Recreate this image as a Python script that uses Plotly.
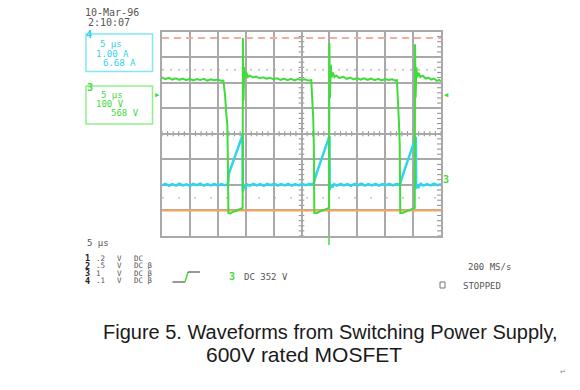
import plotly.graph_objects as go

# ---------------- data (scope divisions: x 0..10 = 5 us/div, y -4..4) ----------------
green_t = [0.00, 0.12, 0.25, 0.37, 0.50, 0.62, 0.75, 0.87, 1.00, 1.12, 1.25, 1.37, 1.50, 1.62, 1.75, 1.87,
           2.00, 2.12, 2.20, 2.26, 2.31, 2.34, 2.36, 2.38,
           2.45, 2.55, 2.65, 2.75, 2.85, 2.89,
           2.90, 2.92, 2.95, 2.98, 3.02, 3.08, 3.15, 3.25, 3.37, 3.50, 3.62, 3.75, 3.87, 4.00, 4.12,
           4.25, 4.37, 4.50, 4.62, 4.75, 4.87, 5.00, 5.12, 5.25, 5.35,
           5.38, 5.42, 5.44, 5.46,
           5.55, 5.65, 5.75, 5.85, 5.95, 5.99,
           6.00, 6.02, 6.05, 6.08, 6.12, 6.18, 6.25, 6.35, 6.50, 6.62, 6.75, 6.87, 7.00, 7.12, 7.25,
           7.37, 7.50, 7.62, 7.75, 7.87, 8.00, 8.12, 8.25, 8.37, 8.42,
           8.45, 8.49, 8.52, 8.54,
           8.62, 8.72, 8.82, 8.92, 9.02, 9.06,
           9.07, 9.09, 9.12, 9.15, 9.20, 9.26, 9.35, 9.45, 9.55, 9.65, 9.75, 9.85, 9.93, 10.0]
green_v = [2.20, 2.14, 2.19, 2.12, 2.17, 2.11, 2.16, 2.10, 2.15, 2.09, 2.14, 2.10, 2.15, 2.08, 2.13, 2.09,
           2.12, 2.07, 2.08, 1.50, 0.70, 0.40, -1.00, -3.10,
           -3.12, -3.05, -3.02, -2.98, -2.93, -2.90,
           3.75, 1.30, 2.60, 2.20, 2.40, 2.22, 2.28, 2.20, 2.24, 2.17, 2.21, 2.15, 2.19, 2.13, 2.17,
           2.11, 2.16, 2.10, 2.15, 2.09, 2.14, 2.10, 2.13, 2.08, 2.10,
           1.60, 0.60, -0.30, -3.10,
           -3.10, -3.04, -3.00, -2.96, -2.92, -2.90,
           3.55, 1.40, 2.70, 2.20, 2.40, 2.22, 2.28, 2.18, 2.23, 2.15, 2.20, 2.13, 2.18, 2.12, 2.17,
           2.11, 2.16, 2.10, 2.15, 2.09, 2.14, 2.10, 2.13, 2.08, 2.10,
           1.60, 0.50, -0.40, -3.10,
           -3.10, -3.05, -3.00, -2.96, -2.93, -2.90,
           3.50, 1.40, 2.60, 2.20, 2.38, 2.22, 2.27, 2.16, 2.20, 2.12, 2.16, 2.07, 2.11, 2.06]

cyan_t = [0.00, 0.12, 0.25, 0.37, 0.50, 0.62, 0.75, 0.87, 1.00, 1.12, 1.25, 1.37, 1.50, 1.62, 1.75, 1.87,
          2.00, 2.12, 2.25, 2.36,
          2.37, 2.40, 2.89,
          2.90, 2.93, 2.98, 3.05, 3.15, 3.27, 3.40, 3.52, 3.65, 3.77, 3.90, 4.02, 4.15, 4.27, 4.40, 4.52,
          4.65, 4.77, 4.90, 5.02, 5.15, 5.27, 5.43,
          5.44, 5.54, 6.00,
          6.01, 6.05, 6.10, 6.17, 6.27, 6.40, 6.52, 6.65, 6.77, 6.90, 7.02, 7.15, 7.27, 7.40, 7.52,
          7.65, 7.77, 7.90, 8.02, 8.15, 8.27, 8.40, 8.54,
          8.55, 8.69, 9.10,
          9.11, 9.15, 9.20, 9.27, 9.37, 9.50, 9.62, 9.75, 9.87, 10.0]
cyan_v = [-2.02, -1.96, -2.04, -1.97, -2.03, -1.95, -2.02, -1.98, -2.04, -1.96, -2.01, -1.95, -2.03, -1.97, -2.02, -1.96,
          -2.03, -1.97, -2.01, -1.98,
          -1.88, -1.55, -0.05,
          -2.25, -2.05, -2.15, -1.98, -2.03, -1.96, -2.02, -1.97, -2.04, -1.96, -2.01, -1.95, -2.03, -1.97, -2.02, -1.96,
          -2.03, -1.97, -2.02, -1.96, -2.01, -1.97, -1.98,
          -1.92, -1.55, -0.09,
          -2.20, -2.00, -2.10, -1.97, -2.03, -1.96, -2.02, -1.97, -2.04, -1.96, -2.01, -1.95, -2.03, -1.97, -2.02,
          -1.96, -2.03, -1.97, -2.01, -1.96, -2.02, -1.97, -1.98,
          -1.90, -1.42, -0.12,
          -2.15, -2.00, -2.08, -1.96, -2.03, -1.97, -2.02, -1.95, -2.01, -1.97]

ref_t = [0.0, 10.0]
ch1_level = [-3.0, -3.0]        # orange reference
ch2_level = [3.75, 3.75]        # pink dashed reference

date_lines = ["10-Mar-96", "2:10:07"]
ch4_box = ["5 µs", "1.00 A", "6.68 A"]
ch3_box = ["5 µs", "100 V", "568 V"]
ch_nums = ["1", "2", "3", "4"]
ch_scales = [".2", ".5", "1", ".1"]
ch_couplings = ["DC", "DC β", "DC β", "DC β"]
caption = ["Figure 5. Waveforms from Switching Power Supply,", "600V rated MOSFET"]

# ---------------- geometry (page has an 8px body margin) ----------------
OFF = 8
W, H = 580 - OFF, 390 - OFF
GX0, GX1, GY0, GY1 = 162, 441, 31.5, 236
def px(x): return (x - OFF) / W
def py(y): return 1 - (y - OFF) / H

GREEN = "#3fdc3a"
CYAN = "#30d4ec"
ORANGE = "#f6a45c"
PINK = "#f5aca2"
GRID = "#a9a9a9"
TXT = "#555555"
MONO = "DejaVu Sans Mono"

fig = go.Figure()
fig.add_trace(go.Scatter(x=ref_t, y=ch1_level, mode="lines", line=dict(color=ORANGE, width=2), hoverinfo="skip"))
fig.add_trace(go.Scatter(x=ref_t, y=ch2_level, mode="lines", line=dict(color=PINK, width=2, dash="7px,5px"), hoverinfo="skip"))
fig.add_trace(go.Scatter(x=cyan_t, y=cyan_v, mode="lines", line=dict(color=CYAN, width=2.5), hoverinfo="skip"))
fig.add_trace(go.Scatter(x=green_t, y=green_v, mode="lines", line=dict(color=GREEN, width=2), hoverinfo="skip"))

shapes = []
shapes.append(dict(type="line", xref="x", yref="y", x0=0, x1=10, y0=2.5, y1=2.5,
                   line=dict(color="#bdbdbd", width=1.5, dash="2px,6px"), layer="below"))
shapes.append(dict(type="line", xref="x", yref="y", x0=0, x1=10, y0=-2.5, y1=-2.5,
                   line=dict(color="#c4c4c4", width=1.5, dash="2px,14px"), layer="below"))
for k in range(-20, 21):
    yv = k * 0.2
    shapes.append(dict(type="line", xref="x", yref="y", x0=4.9, x1=5.1, y0=yv, y1=yv,
                       line=dict(color="#8a8a8a", width=1), layer="below"))
    shapes.append(dict(type="line", xref="x", yref="y", x0=9.86, x1=10, y0=yv, y1=yv,
                       line=dict(color="#8a8a8a", width=1), layer="below"))
for k in range(0, 51):
    xv = k * 0.2
    shapes.append(dict(type="line", xref="x", yref="y", x0=xv, x1=xv, y0=-0.1, y1=0.1,
                       line=dict(color="#8a8a8a", width=1), layer="below"))
shapes.append(dict(type="rect", xref="paper", yref="paper", x0=px(86), x1=px(152.5), y0=py(71.5), y1=py(34),
                   line=dict(color="#7fe8f8", width=1.5)))
shapes.append(dict(type="rect", xref="paper", yref="paper", x0=px(86), x1=px(152.5), y0=py(124), y1=py(86),
                   line=dict(color="#8ef08a", width=1.5)))
shapes.append(dict(type="line", xref="paper", yref="paper", x0=px(329), x1=px(329), y0=py(238), y1=py(245),
                   line=dict(color=GREEN, width=1.5)))
shapes.append(dict(type="path", xref="paper", yref="paper",
                   path=f"M {px(172.5)} {py(282)} L {px(185)} {py(282)}", line=dict(color="#333", width=1)))
shapes.append(dict(type="path", xref="paper", yref="paper",
                   path=f"M {px(185)} {py(282)} L {px(188)} {py(272)}", line=dict(color=GREEN, width=1.5)))
shapes.append(dict(type="path", xref="paper", yref="paper",
                   path=f"M {px(188)} {py(272)} L {px(200)} {py(272)}", line=dict(color="#333", width=1)))
shapes.append(dict(type="rect", xref="paper", yref="paper", x0=px(440), x1=px(445), y0=py(288), y1=py(282),
                   line=dict(color="#777", width=1)))

ann = []
def T(x, y, s, color=TXT, size=9, font=MONO, xa="left", bold=False):
    if bold:
        s = "<b>" + s + "</b>"
    ann.append(dict(x=px(x), y=py(y), xref="paper", yref="paper", text=s, showarrow=False,
                    xanchor=xa, yanchor="middle", borderpad=0,
                    font=dict(family=font, size=size, color=color)))

T(84, 13, date_lines[0], size=10)
T(87, 23, date_lines[1], size=10)
T(85, 35, "4", color=CYAN, size=10, bold=True)
T(99, 44, ch4_box[0], color=CYAN)
T(95, 53.5, ch4_box[1], color=CYAN)
T(102, 63, ch4_box[2], color=CYAN)
T(86, 87, "3", color=GREEN, size=10, bold=True)
T(100, 95, ch3_box[0], color=GREEN)
T(95, 104, ch3_box[1], color=GREEN)
T(110, 113.5, ch3_box[2], color=GREEN)
T(157, 95, "▶", color=GREEN, size=7, xa="center")
T(446, 95, "◀", color=GREEN, size=7, xa="center")
T(442, 180, "3", color=GREEN, size=10, bold=True)

T(86, 243, "5 µs")
rows_y = [258, 265.5, 273, 280.5]
for i in range(4):
    T(84, rows_y[i], ch_nums[i], color="#222", size=8.5, bold=True)
    T(95, rows_y[i], ch_scales[i], size=7.5)
    T(116, rows_y[i], "V", size=7.5)
    T(133, rows_y[i], ch_couplings[i], size=7.5)
T(228, 276.5, "3", color=GREEN, size=10, bold=True)
T(243, 276.5, "DC 352 V")
T(467, 266.5, "200 MS/s")
T(462, 285.5, "STOPPED")

T(330, 332, caption[0], color="#1a1a1a", size=20, font="Liberation Sans", xa="center")
T(304, 354, caption[1], color="#1a1a1a", size=21, font="Liberation Sans", xa="center")
T(563, 372, "↵", color="#888", size=7, font="DejaVu Sans", xa="center")

fig.update_layout(
    width=W, height=H, margin=dict(l=0, r=0, t=0, b=0),
    paper_bgcolor="white", plot_bgcolor="white", showlegend=False,
    shapes=shapes, annotations=ann,
    xaxis=dict(domain=[px(GX0), px(GX1)], range=[0, 10], dtick=1, tick0=0, showgrid=True,
               gridcolor=GRID, gridwidth=1.5, zeroline=False, showticklabels=False, ticks="",
               showline=True, linecolor=GRID, linewidth=1.5, mirror=True, fixedrange=True),
    yaxis=dict(domain=[py(GY1), py(GY0)], range=[-4, 4], dtick=1, tick0=0, showgrid=True,
               gridcolor=GRID, gridwidth=1.5, zeroline=False, showticklabels=False, ticks="",
               showline=True, linecolor=GRID, linewidth=1.5, mirror=True, fixedrange=True),
)
fig.write_html("out.html")
